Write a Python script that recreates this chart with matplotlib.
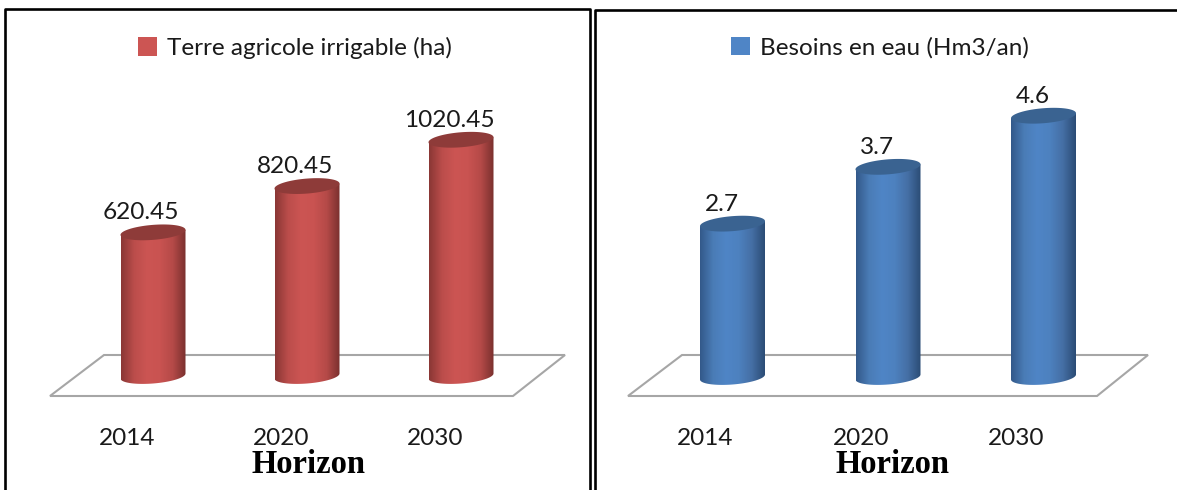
import numpy as np
import matplotlib
matplotlib.use('Agg')
import matplotlib.pyplot as plt
from matplotlib.colors import LinearSegmentedColormap
from matplotlib.patches import Patch, Polygon
from matplotlib.lines import Line2D

W, H = 1177, 490

years = ['2014', '2020', '2030']
terre_values = [620.45, 820.45, 1020.45]
terre_labels = ['620.45', '820.45', '1020.45']
eau_values = [2.7, 3.7, 4.6]
eau_labels = ['2.7', '3.7', '4.6']

plt.rcParams['font.family'] = ['Lato', 'DejaVu Sans']


def cylinder(ax, cx, v, width, half_h, tilt, cmap, top_color):
    # sheared ellipse: left end sits lower than the right end
    t = np.linspace(np.pi, 2 * np.pi, 60)
    bx = cx + width / 2 * np.cos(t)
    by = half_h * np.sin(t) + tilt * np.cos(t)
    tx = bx[::-1]
    ty = v + tilt * np.cos(t[::-1])
    body = Polygon(np.r_[np.c_[bx, by], np.c_[tx, ty]], closed=True, fc='none', ec='none')
    ax.add_patch(body)
    grad = np.linspace(0, 1, 128).reshape(1, -1)
    im = ax.imshow(grad, cmap=cmap, aspect='auto', zorder=3,
                   extent=(cx - width / 2, cx + width / 2, -2 * half_h, v + 2 * half_h))
    im.set_clip_path(body)
    t2 = np.linspace(0, 2 * np.pi, 120)
    ax.add_patch(Polygon(np.c_[cx + width / 2 * np.cos(t2),
                               v + half_h * np.sin(t2) + tilt * np.cos(t2)],
                         closed=True, fc=top_color, ec='none', zorder=4))


def panel(left_px, right_px, first_px, step_px, base_px, px_per_unit, values, labels,
          legend_text, legend_x, colors, floor_px, tick_off, label_off, xlabel_x):
    top_px, bottom_px = 9, 396
    ax = fig.add_axes([left_px / W, 1 - bottom_px / H, (right_px - left_px) / W, (bottom_px - top_px) / H])
    ax.set_facecolor('none')
    for s in ax.spines.values():
        s.set_visible(False)

    def fx(p):
        return (p - first_px) / step_px

    def fy(p):
        return (base_px - p) / px_per_unit

    x = np.arange(len(values))
    fl, fr, bl, br = floor_px
    ax.add_patch(Polygon([(fx(fl), fy(396)), (fx(fr), fy(396)), (fx(br), fy(355)), (fx(bl), fy(355))],
                         closed=True, fc='white', ec='#a6a6a6', lw=1.5, zorder=1, clip_on=False))

    cmap = LinearSegmentedColormap.from_list('cyl', colors[:-1])
    for xi, v, lab in zip(x, values, labels):
        cylinder(ax, xi, v, 65 / step_px, 7.5 / px_per_unit, 2.5 / px_per_unit, cmap, colors[-1])
        ax.annotate(lab, (xi, v), xytext=(label_off * 0.72, 19.5 * 0.72), textcoords='offset points',
                    ha='center', va='center', fontsize=17.6, color='#1a1a1a', zorder=5)

    ax.set_xlim(fx(left_px), fx(right_px))
    ax.set_ylim(fy(bottom_px), fy(top_px))
    ax.set_yticks([])
    ax.set_xticks(x + tick_off / step_px)
    ax.set_xticklabels(years, fontsize=17.6, color='#1a1a1a')
    ax.tick_params(axis='x', length=0, pad=23)
    ax.set_xlabel('Horizon', family='Liberation Serif', fontweight='bold', fontsize=23.5, color='black')
    ax.xaxis.set_label_coords((xlabel_x - left_px) / (right_px - left_px), -(449 - bottom_px) / (bottom_px - top_px))

    handle = Patch(fc=colors[2], ec='none')
    ax.legend([handle], [legend_text], frameon=False, fontsize=17.5, loc='center',
              handlelength=0.78, handleheight=0.78, handletextpad=0.4, labelcolor='#1a1a1a',
              bbox_to_anchor=((legend_x - left_px) / (right_px - left_px), (bottom_px - 48) / (bottom_px - top_px)))


fig = plt.figure(figsize=(W / 100, H / 100), dpi=100, facecolor='white')

red = ['#8a3735', '#bb4d4b', '#cc5553', '#c95351', '#b54a48', '#7a302e', '#8e3b39']
blue = ['#33598a', '#4a7cb6', '#4f85c6', '#4d81bf', '#456fa5', '#2b4c75', '#3a6391']

panel(0, 590, 153, 154, 376, 0.2315, terre_values, terre_labels,
      'Terre agricole irrigable (ha)', 295, red, (50, 513, 104, 565), -26, -12, 308)
panel(595, 1177, 732.5, 155.5, 377, 56.8, eau_values, eau_labels,
      'Besoins en eau (Hm3/an)', 880, blue, (628, 1097, 682, 1148), -27, -11, 892)

# black page frames around both charts
for xs, ys in [([5, 5, 590, 590], [490, 9, 9, 490]), ([595, 595, 1177], [490, 10, 10])]:
    fig.add_artist(Line2D(np.array(xs) / W, 1 - np.array(ys) / H, color='black', lw=1.9))

fig.savefig('out.png', dpi=100)
